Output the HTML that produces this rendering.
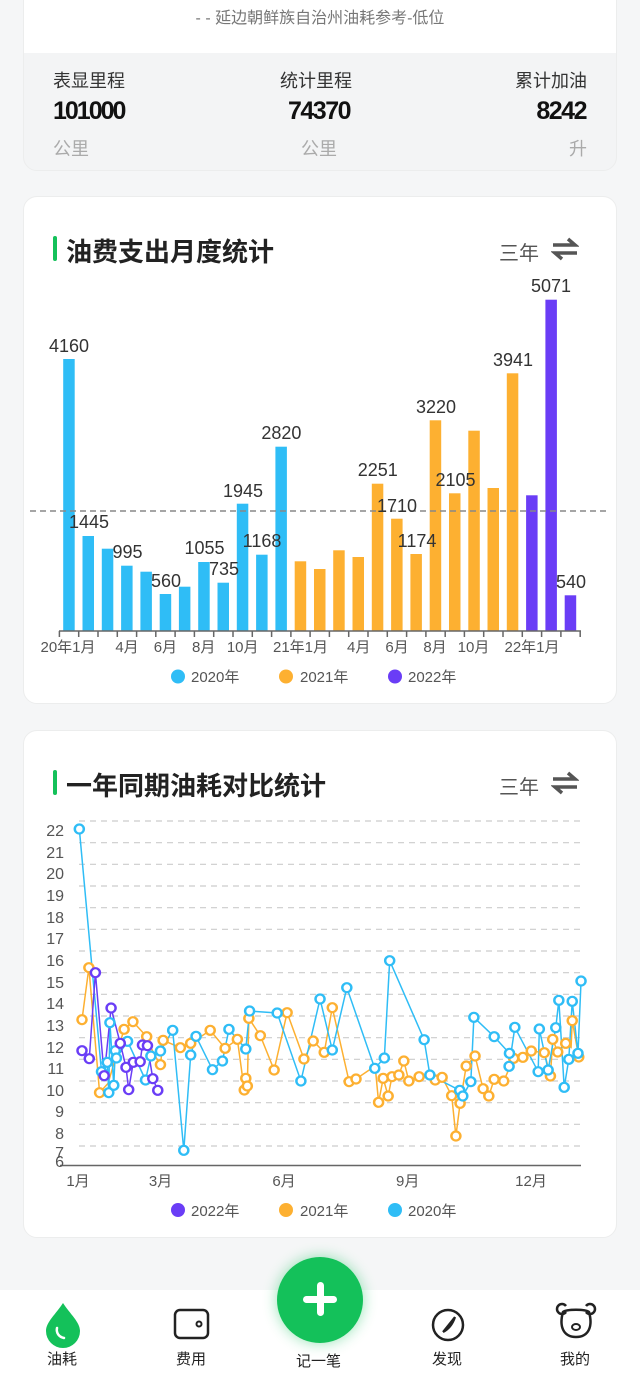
<!DOCTYPE html>
<html><head><meta charset="utf-8">
<style>
*{margin:0;padding:0;box-sizing:border-box}
body{width:640px;height:1376px;background:#f5f6f7;font-family:"Liberation Sans","Noto Sans CJK SC",sans-serif;position:relative;overflow:hidden;color:#222}
.abs{position:absolute}
.card{position:absolute;left:23px;width:594px;background:#fff;border-radius:14px;border:1px solid #eceded}
.t{position:absolute;white-space:nowrap}
</style></head><body>
<div class="card" style="top:-20px;height:191px;background:#f3f4f5;overflow:hidden">
  <div class="abs" style="left:0;top:0;width:594px;height:72px;background:#fff"></div>
</div>
<div class="t" style="left:0;width:640px;text-align:center;top:4px;font-size:16px;color:#777">- - 延边朝鲜族自治州油耗参考-低位</div>
<div class="t" style="left:53px;top:67px;font-size:18px;color:#333">表显里程</div>
<div class="t" style="left:280px;top:67px;font-size:18px;color:#333">统计里程</div>
<div class="t" style="right:53px;top:67px;font-size:18px;color:#333">累计加油</div>
<div class="t" style="left:53px;top:97px;font-size:25px;font-weight:bold;color:#111;letter-spacing:-2px">101000</div>
<div class="t" style="left:288px;top:97px;font-size:25px;font-weight:bold;color:#111;letter-spacing:-1.5px">74370</div>
<div class="t" style="right:54px;top:97px;font-size:25px;font-weight:bold;color:#111;letter-spacing:-1.5px">8242</div>
<div class="t" style="left:53px;top:135px;font-size:18px;color:#aaa">公里</div>
<div class="t" style="left:301px;top:135px;font-size:18px;color:#aaa">公里</div>
<div class="t" style="right:53px;top:135px;font-size:18px;color:#aaa">升</div>

<div class="card" style="top:196px;height:508px"></div>
<div class="abs" style="left:53px;top:236px;width:4px;height:25px;background:#14c15a;border-radius:2px"></div>
<div class="t" style="left:66px;top:232px;font-size:26px;font-weight:bold;color:#222">油费支出月度统计</div>
<div class="t" style="left:499px;top:237px;font-size:20px;color:#555">三年</div>
<svg class="abs" style="left:551px;top:236px" width="28" height="26" viewBox="0 0 28 26"><path d="M2 9h22l-7-6M26 17H4l7 6" stroke="#555" stroke-width="3.5" fill="none"/></svg>

<div class="card" style="top:730px;height:508px"></div>
<div class="abs" style="left:53px;top:770px;width:4px;height:25px;background:#14c15a;border-radius:2px"></div>
<div class="t" style="left:66px;top:766px;font-size:26px;font-weight:bold;color:#222">一年同期油耗对比统计</div>
<div class="t" style="left:499px;top:771px;font-size:20px;color:#555">三年</div>
<svg class="abs" style="left:551px;top:770px" width="28" height="26" viewBox="0 0 28 26"><path d="M2 9h22l-7-6M26 17H4l7 6" stroke="#555" stroke-width="3.5" fill="none"/></svg>

<svg class="abs" style="left:0;top:0" width="640" height="1376">
<g font-family="Liberation Sans, Noto Sans CJK SC, sans-serif">
<g fill="#2fbdf6">
<rect x="63.2" y="359" width="11.5" height="272"/>
<rect x="82.5" y="536" width="11.5" height="95"/>
<rect x="101.8" y="548.7" width="11.5" height="82.3"/>
<rect x="121.1" y="565.7" width="11.5" height="65.3"/>
<rect x="140.4" y="571.7" width="11.5" height="59.3"/>
<rect x="159.7" y="594" width="11.5" height="37"/>
<rect x="178.9" y="586.7" width="11.5" height="44.3"/>
<rect x="198.2" y="562" width="11.5" height="69"/>
<rect x="217.5" y="582.7" width="11.5" height="48.3"/>
<rect x="236.8" y="503.7" width="11.5" height="127.3"/>
<rect x="256.1" y="554.7" width="11.5" height="76.3"/>
<rect x="275.4" y="446.7" width="11.5" height="184.3"/>
</g>
<g fill="#fdb031">
<rect x="294.7" y="561.3" width="11.5" height="69.7"/>
<rect x="314" y="569" width="11.5" height="62"/>
<rect x="333.2" y="550.3" width="11.5" height="80.7"/>
<rect x="352.5" y="557" width="11.5" height="74"/>
<rect x="371.8" y="483.7" width="11.5" height="147.3"/>
<rect x="391.1" y="518.7" width="11.5" height="112.3"/>
<rect x="410.4" y="554" width="11.5" height="77"/>
<rect x="429.7" y="420.3" width="11.5" height="210.7"/>
<rect x="449" y="493.3" width="11.5" height="137.7"/>
<rect x="468.3" y="430.7" width="11.5" height="200.3"/>
<rect x="487.5" y="488" width="11.5" height="143"/>
<rect x="506.8" y="373.3" width="11.5" height="257.7"/>
</g>
<g fill="#6a3df6">
<rect x="526.1" y="495.3" width="11.5" height="135.7"/>
<rect x="545.4" y="299.7" width="11.5" height="331.3"/>
<rect x="564.7" y="595.3" width="11.5" height="35.7"/>
</g>
<line x1="30" y1="511" x2="607" y2="511" stroke="#888" stroke-width="1.5" stroke-dasharray="6 4"/>
<line x1="59" y1="631" x2="581" y2="631" stroke="#666" stroke-width="1.5"/>
<g stroke="#666" stroke-width="1.5">
<path d="M59.4 631v6M78.7 631v6M98 631v6M117.3 631v6M136.6 631v6M155.8 631v6M175.1 631v6M194.4 631v6M213.7 631v6M233 631v6M252.3 631v6M271.6 631v6M290.9 631v6M310.1 631v6M329.4 631v6M348.7 631v6M368 631v6M387.3 631v6M406.6 631v6M425.9 631v6M445.2 631v6M464.4 631v6M483.7 631v6M503 631v6M522.3 631v6M541.6 631v6M560.9 631v6M580.2 631v6"/>
</g>
<g font-size="18" fill="#333" text-anchor="middle">
<text x="69" y="352">4160</text><text x="89" y="528">1445</text><text x="127.5" y="558">995</text>
<text x="166" y="587">560</text><text x="204.5" y="554">1055</text><text x="224" y="575">735</text>
<text x="243" y="497">1945</text><text x="262" y="547">1168</text><text x="281.4" y="439">2820</text>
<text x="377.8" y="476">2251</text><text x="397" y="512">1710</text><text x="417" y="547">1174</text>
<text x="436" y="413">3220</text><text x="455.5" y="486">2105</text><text x="513" y="366">3941</text>
<text x="551" y="292">5071</text><text x="571" y="588">540</text>
</g>
<g font-size="15" fill="#555" text-anchor="middle">
<text x="68" y="652">20年1月</text><text x="127" y="652">4月</text><text x="165.4" y="652">6月</text>
<text x="203.7" y="652">8月</text><text x="242.7" y="652">10月</text><text x="300.5" y="652">21年1月</text>
<text x="358.7" y="652">4月</text><text x="397" y="652">6月</text><text x="435" y="652">8月</text>
<text x="473.5" y="652">10月</text><text x="532" y="652">22年1月</text>
</g>
<g font-size="15" fill="#555">
<circle cx="178" cy="676.5" r="7" fill="#2fbdf6"/><text x="191" y="682">2020年</text>
<circle cx="286" cy="676.5" r="7" fill="#fdb031"/><text x="300" y="682">2021年</text>
<circle cx="395" cy="676.5" r="7" fill="#6a3df6"/><text x="408" y="682">2022年</text>
</g>

<g stroke="#ccc" stroke-width="1.2" stroke-dasharray="6 5">
<path d="M79 821H581M79 842.7H581M79 864.3H581M79 886H581M79 907.7H581M79 929.3H581M79 951H581M79 972.7H581M79 994.3H581M79 1016H581M79 1037.7H581M79 1059.3H581M79 1081H581M79 1102.7H581M79 1124.3H581M79 1146H581"/>
</g>
<line x1="60" y1="1165.5" x2="581" y2="1165.5" stroke="#666" stroke-width="1.5"/>
<g font-size="16" fill="#555" text-anchor="end">
<text x="64" y="836">22</text><text x="64" y="858">21</text><text x="64" y="879">20</text><text x="64" y="901">19</text>
<text x="64" y="923">18</text><text x="64" y="944">17</text><text x="64" y="966">16</text><text x="64" y="988">15</text>
<text x="64" y="1009">14</text><text x="64" y="1031">13</text><text x="64" y="1053">12</text><text x="64" y="1074">11</text>
<text x="64" y="1096">10</text><text x="64" y="1117">9</text><text x="64" y="1139">8</text><text x="64" y="1158">7</text><text x="64" y="1167">6</text>
</g>
<g font-size="15" fill="#555" text-anchor="middle">
<text x="78" y="1186">1月</text><text x="160.5" y="1186">3月</text><text x="284" y="1186">6月</text><text x="407.7" y="1186">9月</text><text x="531" y="1186">12月</text>
</g>
<g font-size="15" fill="#555">
<circle cx="178" cy="1210" r="7" fill="#6a3df6"/><text x="191" y="1216">2022年</text>
<circle cx="286" cy="1210" r="7" fill="#fdb031"/><text x="300" y="1216">2021年</text>
<circle cx="395" cy="1210" r="7" fill="#2fbdf6"/><text x="408" y="1216">2020年</text>
</g>
</g>
<g transform="translate(20,810) scale(0.3827,0.33333)" fill="none">
<polyline stroke="#fdb031" stroke-width="1.5" vector-effect="non-scaling-stroke" points="162,629 180,473 208,848 230,820 272,658 295,635 331,680 349,730 367,764 374,691 419,713 446,700 497,661 536,715 568,688 586,840 590,805 594,828 598,625 628,677 664,780 698,608 742,747 766,693 795,727 816,593 860,815 878,807 928,768 937,877 949,805 962,858 972,800 990,795 1003,753 1016,813 1043,800 1065,800 1085,810 1103,802 1128,857 1139,978 1150,880 1166,768 1189,738 1210,836 1225,858 1239,808 1264,813 1290,745 1314,742 1336,723 1370,728 1386,798 1392,688 1405,726 1426,700 1440,712 1443,632 1460,741"/>
<polyline stroke="#2fbdf6" stroke-width="1.5" vector-effect="non-scaling-stroke" points="155,57 213,785 228,757 232,848 235,638 245,826 249,722 252,744 281,694 328,810 342,738 367,723 399,661 428,1021 446,735 460,679 503,779 529,753 546,658 590,717 600,603 672,609 734,813 784,567 816,720 854,533 927,775 952,744 966,452 1056,689 1071,795 1149,841 1157,858 1178,815 1186,622 1239,680 1279,730 1278,769 1293,652 1354,785 1357,657 1380,780 1400,653 1408,571 1422,832 1434,748 1443,574 1458,730 1466,513"/>
<polyline stroke="#6a3df6" stroke-width="1.5" vector-effect="non-scaling-stroke" points="162,722 181,746 197,488 220,797 238,594 262,700 277,772 284,839 296,757 314,755 320,705 333,707 347,806 360,841"/>
</g>
</svg>
<svg class="abs" style="left:0;top:0" width="640" height="1376">
<g transform="translate(20,810) scale(0.3827,0.33333)" fill="#fff">
<g stroke="#fdb031" stroke-width="6.5">
<ellipse rx="11.8" ry="13.5" cx="162" cy="629"/><ellipse rx="11.8" ry="13.5" cx="180" cy="473"/><ellipse rx="11.8" ry="13.5" cx="208" cy="848"/><ellipse rx="11.8" ry="13.5" cx="272" cy="658"/><ellipse rx="11.8" ry="13.5" cx="295" cy="635"/><ellipse rx="11.8" ry="13.5" cx="331" cy="680"/><ellipse rx="11.8" ry="13.5" cx="367" cy="764"/><ellipse rx="11.8" ry="13.5" cx="374" cy="691"/><ellipse rx="11.8" ry="13.5" cx="419" cy="713"/><ellipse rx="11.8" ry="13.5" cx="446" cy="700"/><ellipse rx="11.8" ry="13.5" cx="497" cy="661"/><ellipse rx="11.8" ry="13.5" cx="536" cy="715"/><ellipse rx="11.8" ry="13.5" cx="568" cy="688"/><ellipse rx="11.8" ry="13.5" cx="586" cy="840"/><ellipse rx="11.8" ry="13.5" cx="590" cy="805"/><ellipse rx="11.8" ry="13.5" cx="594" cy="828"/><ellipse rx="11.8" ry="13.5" cx="598" cy="625"/><ellipse rx="11.8" ry="13.5" cx="628" cy="677"/><ellipse rx="11.8" ry="13.5" cx="664" cy="780"/><ellipse rx="11.8" ry="13.5" cx="698" cy="608"/><ellipse rx="11.8" ry="13.5" cx="742" cy="747"/><ellipse rx="11.8" ry="13.5" cx="766" cy="693"/><ellipse rx="11.8" ry="13.5" cx="795" cy="727"/><ellipse rx="11.8" ry="13.5" cx="816" cy="593"/><ellipse rx="11.8" ry="13.5" cx="860" cy="815"/><ellipse rx="11.8" ry="13.5" cx="878" cy="807"/><ellipse rx="11.8" ry="13.5" cx="937" cy="877"/><ellipse rx="11.8" ry="13.5" cx="949" cy="805"/><ellipse rx="11.8" ry="13.5" cx="962" cy="858"/><ellipse rx="11.8" ry="13.5" cx="972" cy="800"/><ellipse rx="11.8" ry="13.5" cx="990" cy="795"/><ellipse rx="11.8" ry="13.5" cx="1003" cy="753"/><ellipse rx="11.8" ry="13.5" cx="1016" cy="813"/><ellipse rx="11.8" ry="13.5" cx="1043" cy="800"/><ellipse rx="11.8" ry="13.5" cx="1085" cy="810"/><ellipse rx="11.8" ry="13.5" cx="1103" cy="802"/><ellipse rx="11.8" ry="13.5" cx="1128" cy="857"/><ellipse rx="11.8" ry="13.5" cx="1139" cy="978"/><ellipse rx="11.8" ry="13.5" cx="1150" cy="880"/><ellipse rx="11.8" ry="13.5" cx="1166" cy="768"/><ellipse rx="11.8" ry="13.5" cx="1189" cy="738"/><ellipse rx="11.8" ry="13.5" cx="1210" cy="836"/><ellipse rx="11.8" ry="13.5" cx="1225" cy="858"/><ellipse rx="11.8" ry="13.5" cx="1239" cy="808"/><ellipse rx="11.8" ry="13.5" cx="1264" cy="813"/><ellipse rx="11.8" ry="13.5" cx="1290" cy="745"/><ellipse rx="11.8" ry="13.5" cx="1314" cy="742"/><ellipse rx="11.8" ry="13.5" cx="1336" cy="723"/><ellipse rx="11.8" ry="13.5" cx="1370" cy="728"/><ellipse rx="11.8" ry="13.5" cx="1386" cy="798"/><ellipse rx="11.8" ry="13.5" cx="1392" cy="688"/><ellipse rx="11.8" ry="13.5" cx="1405" cy="726"/><ellipse rx="11.8" ry="13.5" cx="1426" cy="700"/><ellipse rx="11.8" ry="13.5" cx="1443" cy="632"/><ellipse rx="11.8" ry="13.5" cx="1460" cy="741"/>
</g>
<g stroke="#2fbdf6" stroke-width="6.5">
<ellipse rx="11.8" ry="13.5" cx="155" cy="57"/><ellipse rx="11.8" ry="13.5" cx="213" cy="785"/><ellipse rx="11.8" ry="13.5" cx="228" cy="757"/><ellipse rx="11.8" ry="13.5" cx="232" cy="848"/><ellipse rx="11.8" ry="13.5" cx="235" cy="638"/><ellipse rx="11.8" ry="13.5" cx="245" cy="826"/><ellipse rx="11.8" ry="13.5" cx="249" cy="722"/><ellipse rx="11.8" ry="13.5" cx="252" cy="744"/><ellipse rx="11.8" ry="13.5" cx="281" cy="694"/><ellipse rx="11.8" ry="13.5" cx="328" cy="810"/><ellipse rx="11.8" ry="13.5" cx="342" cy="738"/><ellipse rx="11.8" ry="13.5" cx="367" cy="723"/><ellipse rx="11.8" ry="13.5" cx="399" cy="661"/><ellipse rx="11.8" ry="13.5" cx="428" cy="1021"/><ellipse rx="11.8" ry="13.5" cx="446" cy="735"/><ellipse rx="11.8" ry="13.5" cx="460" cy="679"/><ellipse rx="11.8" ry="13.5" cx="503" cy="779"/><ellipse rx="11.8" ry="13.5" cx="529" cy="753"/><ellipse rx="11.8" ry="13.5" cx="546" cy="658"/><ellipse rx="11.8" ry="13.5" cx="590" cy="717"/><ellipse rx="11.8" ry="13.5" cx="600" cy="603"/><ellipse rx="11.8" ry="13.5" cx="672" cy="609"/><ellipse rx="11.8" ry="13.5" cx="734" cy="813"/><ellipse rx="11.8" ry="13.5" cx="784" cy="567"/><ellipse rx="11.8" ry="13.5" cx="816" cy="720"/><ellipse rx="11.8" ry="13.5" cx="854" cy="533"/><ellipse rx="11.8" ry="13.5" cx="927" cy="775"/><ellipse rx="11.8" ry="13.5" cx="952" cy="744"/><ellipse rx="11.8" ry="13.5" cx="966" cy="452"/><ellipse rx="11.8" ry="13.5" cx="1056" cy="689"/><ellipse rx="11.8" ry="13.5" cx="1071" cy="795"/><ellipse rx="11.8" ry="13.5" cx="1149" cy="841"/><ellipse rx="11.8" ry="13.5" cx="1157" cy="858"/><ellipse rx="11.8" ry="13.5" cx="1178" cy="815"/><ellipse rx="11.8" ry="13.5" cx="1186" cy="622"/><ellipse rx="11.8" ry="13.5" cx="1239" cy="680"/><ellipse rx="11.8" ry="13.5" cx="1279" cy="730"/><ellipse rx="11.8" ry="13.5" cx="1278" cy="769"/><ellipse rx="11.8" ry="13.5" cx="1293" cy="652"/><ellipse rx="11.8" ry="13.5" cx="1354" cy="785"/><ellipse rx="11.8" ry="13.5" cx="1357" cy="657"/><ellipse rx="11.8" ry="13.5" cx="1380" cy="780"/><ellipse rx="11.8" ry="13.5" cx="1400" cy="653"/><ellipse rx="11.8" ry="13.5" cx="1408" cy="571"/><ellipse rx="11.8" ry="13.5" cx="1422" cy="832"/><ellipse rx="11.8" ry="13.5" cx="1434" cy="748"/><ellipse rx="11.8" ry="13.5" cx="1443" cy="574"/><ellipse rx="11.8" ry="13.5" cx="1458" cy="730"/><ellipse rx="11.8" ry="13.5" cx="1466" cy="513"/>
</g>
<g stroke="#6a3df6" stroke-width="6.5">
<ellipse rx="11.8" ry="13.5" cx="162" cy="722"/><ellipse rx="11.8" ry="13.5" cx="181" cy="746"/><ellipse rx="11.8" ry="13.5" cx="197" cy="488"/><ellipse rx="11.8" ry="13.5" cx="220" cy="797"/><ellipse rx="11.8" ry="13.5" cx="238" cy="594"/><ellipse rx="11.8" ry="13.5" cx="262" cy="700"/><ellipse rx="11.8" ry="13.5" cx="277" cy="772"/><ellipse rx="11.8" ry="13.5" cx="284" cy="839"/><ellipse rx="11.8" ry="13.5" cx="296" cy="757"/><ellipse rx="11.8" ry="13.5" cx="314" cy="755"/><ellipse rx="11.8" ry="13.5" cx="320" cy="705"/><ellipse rx="11.8" ry="13.5" cx="333" cy="707"/><ellipse rx="11.8" ry="13.5" cx="347" cy="806"/><ellipse rx="11.8" ry="13.5" cx="360" cy="841"/>
</g>
</g>
</svg>

<div class="abs" style="left:0;top:1290px;width:640px;height:86px;background:#fff"></div>
<div class="abs" style="left:277px;top:1257px;width:86px;height:86px;border-radius:50%;background:#14c15a;box-shadow:0 0 14px rgba(20,193,90,0.45)"></div>
<div class="abs" style="left:303px;top:1296px;width:34px;height:7px;background:#fff;border-radius:4px"></div>
<div class="abs" style="left:316.5px;top:1282px;width:7px;height:34px;background:#fff;border-radius:4px"></div>
<svg class="abs" style="left:0;top:1300px" width="640" height="50">
<path d="M63 3C56 14 46 22 46 31a17 17 0 0 0 34 0c0-9-10-17-17-28z" fill="#14c15a"/>
<path d="M57 28c-1 5 2 9 7 10" stroke="#fff" stroke-width="2.5" fill="none" stroke-linecap="round"/>
<rect x="175" y="10" width="33" height="28" rx="5" fill="none" stroke="#222" stroke-width="2.5"/>
<circle cx="199" cy="24" r="2.5" fill="none" stroke="#222" stroke-width="2"/>
<circle cx="448" cy="25" r="15" fill="none" stroke="#222" stroke-width="2.5"/>
<path d="M455 17l-12 15M455 17c-2 6-6 12-12 15" stroke="#222" stroke-width="2.2" fill="none"/>
<path d="M566 12a5 5 0 1 1 0-6M586 12a5 5 0 1 0 0-6" stroke="#222" stroke-width="2.5" fill="none"/>
<path d="M563 12c-4 14 0 25 13 25s17-11 13-25c-4-3-22-3-26 0z" fill="none" stroke="#222" stroke-width="2.5"/>
<ellipse cx="576" cy="27" rx="4" ry="3" fill="none" stroke="#222" stroke-width="2"/>
</svg>
<div class="t" style="left:47px;top:1348px;font-size:15px;color:#222">油耗</div>
<div class="t" style="left:176px;top:1348px;font-size:15px;color:#222">费用</div>
<div class="t" style="left:296px;top:1350px;font-size:15px;color:#222">记一笔</div>
<div class="t" style="left:432px;top:1348px;font-size:15px;color:#222">发现</div>
<div class="t" style="left:560px;top:1348px;font-size:15px;color:#222">我的</div>
</body></html>
